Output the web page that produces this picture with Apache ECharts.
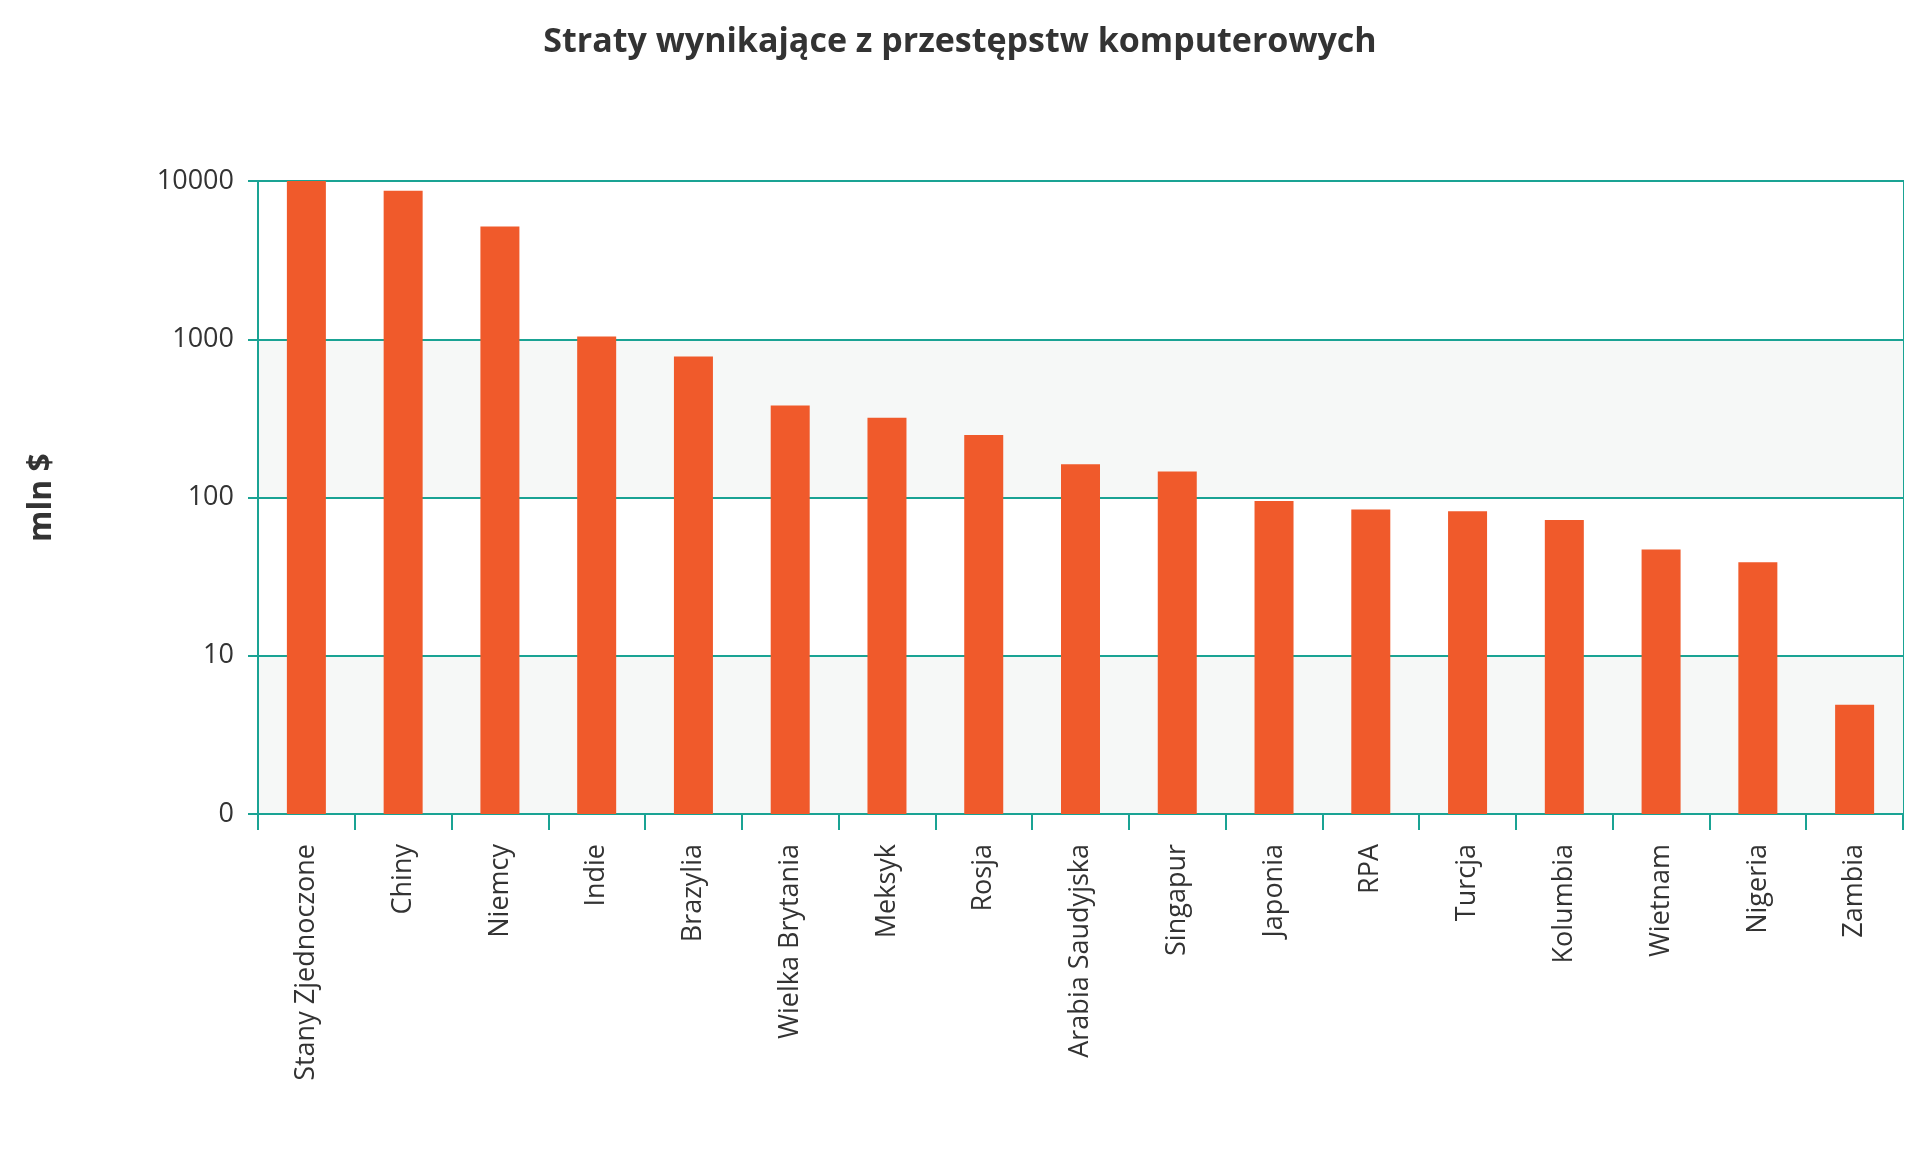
<!DOCTYPE html>
<html>
<head>
<meta charset="utf-8">
<script src="https://cdn.jsdelivr.net/npm/echarts@6/dist/echarts.min.js"></script>
<style>html,body{margin:0;padding:0;background:#fff}#chart{width:1920px;height:1154px}</style>
</head>
<body>
<div id="chart"></div>
<script>
const countries = ['Stany Zjednoczone', 'Chiny', 'Niemcy', 'Indie', 'Brazylia', 'Wielka Brytania', 'Meksyk', 'Rosja',
    'Arabia Saudyjska', 'Singapur', 'Japonia', 'RPA', 'Turcja', 'Kolumbia', 'Wietnam', 'Nigeria', 'Zambia']
const losses = [10000, 8670, 5160, 1040, 778, 381, 319, 248, 162, 146, 95, 84, 82, 72, 47, 39, 4.9]

const teal = '#1aa394'
const myChart = echarts.init(document.getElementById('chart'))
myChart.setOption({
    animation: false,
    textStyle: { fontFamily: 'Open Sans' },
    title: {
        text: 'Straty wynikające z przestępstw komputerowych',
        left: 'center',
        top: 20,
        textStyle: { fontSize: 34, fontWeight: 'bold', color: '#333', fontFamily: 'Open Sans' }
    },
    grid: { left: 258, right: 17, top: 181, bottom: 340, show: true, borderColor: teal, borderWidth: 2, backgroundColor: 'transparent' },
    xAxis: {
        type: 'category',
        data: countries,
        axisLine: { lineStyle: { color: teal, width: 2 } },
        axisTick: { show: true, length: 16, lineStyle: { color: teal, width: 2 } },
        axisLabel: { rotate: 90, fontSize: 27, color: '#333', margin: 30 }
    },
    yAxis: {
        type: 'log',
        min: 1,
        max: 10000,
        logBase: 10,
        name: 'mln $',
        nameLocation: 'middle',
        nameGap: 200,
        nameTextStyle: { fontSize: 32, fontWeight: 'bold', color: '#333' },
        axisLine: { show: true, lineStyle: { color: teal, width: 2 } },
        axisTick: { show: true, length: 10, lineStyle: { color: teal, width: 2 } },
        axisLabel: { fontSize: 27, color: '#333', margin: 24, formatter: v => (v === 1 ? '0' : String(v)) },
        splitLine: { lineStyle: { color: teal, width: 2 } },
        splitArea: { show: true, areaStyle: { color: ['#f6f8f7', '#ffffff'] } }
    },
    series: [{
        type: 'bar',
        data: losses,
        barWidth: 39,
        itemStyle: { color: '#f05a2b' }
    }]
})
</script>
</body>
</html>
